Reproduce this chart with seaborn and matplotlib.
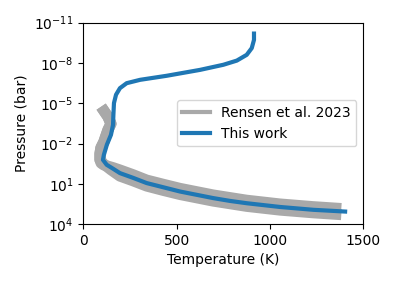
import numpy as np
import pandas as pd
import seaborn as sns
import matplotlib
matplotlib.use("Agg")
import matplotlib.pyplot as plt

# Rensen et al. 2023 profiles (temperature in K, log10 pressure in bar)
rensen_a_T = [112, 132, 148, 132, 121, 110, 94, 89, 89, 95, 108, 130, 160,
              196, 266, 339, 427, 518, 696, 875, 1054, 1232, 1352]
rensen_a_logp = [-4.40, -3.99, -3.47, -3.02, -2.58, -2.13, -1.68, -1.24, -0.79,
                 -0.55, -0.42, -0.32, -0.20, -0.03, 0.32, 0.72, 1.03, 1.34,
                 1.83, 2.22, 2.50, 2.70, 2.81]
rensen_b_T = [112, 132, 148, 132, 121, 110, 94, 89, 89, 110, 148, 196, 266,
              339, 427, 518, 696, 875, 1054, 1232, 1352]
rensen_b_logp = [-4.40, -3.99, -3.47, -3.02, -2.58, -2.13, -1.68, -1.24, -0.79,
                 -0.46, -0.05, 0.42, 0.77, 1.16, 1.48, 1.79, 2.28, 2.67, 2.95,
                 3.15, 3.26]

# this work
work_T = [914, 914, 902, 875, 822, 750, 625, 446, 304, 232, 196, 175, 164,
          161, 159, 148, 126, 110, 105, 125, 160, 196, 266, 339, 427, 518,
          696, 786, 875, 1054, 1232, 1402]
work_logp = [-10.18, -9.71, -9.10, -8.60, -8.17, -7.86, -7.48, -7.04, -6.74,
             -6.49, -6.12, -5.63, -5.01, -4.14, -3.39, -2.65, -1.91, -1.16,
             -0.79, -0.42, -0.12, 0.20, 0.55, 0.94, 1.25, 1.57, 2.06, 2.27,
             2.44, 2.72, 2.93, 3.06]

df_a = pd.DataFrame({'T': rensen_a_T, 'P': 10.0 ** np.array(rensen_a_logp)})
df_b = pd.DataFrame({'T': rensen_b_T, 'P': 10.0 ** np.array(rensen_b_logp)})
df_w = pd.DataFrame({'T': work_T, 'P': 10.0 ** np.array(work_logp)})

fig, ax = plt.subplots(figsize=(3.95, 2.82), dpi=100)
fig.subplots_adjust(left=0.211, right=0.92, top=0.92, bottom=0.205)

sns.lineplot(data=df_a, x='T', y='P', sort=False, estimator=None, ax=ax,
             color='darkgrey', lw=8, label='Rensen et al. 2023')
sns.lineplot(data=df_b, x='T', y='P', sort=False, estimator=None, ax=ax,
             color='darkgrey', lw=8)
sns.lineplot(data=df_w, x='T', y='P', sort=False, estimator=None, ax=ax,
             color='tab:blue', lw=3, label='This work')

ax.set_yscale('log')
ax.set_ylim(1e4, 1e-11)
ax.set_yticks([1e-11, 1e-8, 1e-5, 1e-2, 1e1, 1e4])
ax.minorticks_off()
ax.set_xlim(0, 1500)
ax.set_xticks([0, 500, 1000, 1500])
ax.set_xlabel('Temperature (K)')
ax.set_ylabel('Pressure (bar)')

leg = ax.legend(loc='center right')
for line in leg.get_lines():
    line.set_linewidth(3)

plt.savefig('out.png', dpi=100)
